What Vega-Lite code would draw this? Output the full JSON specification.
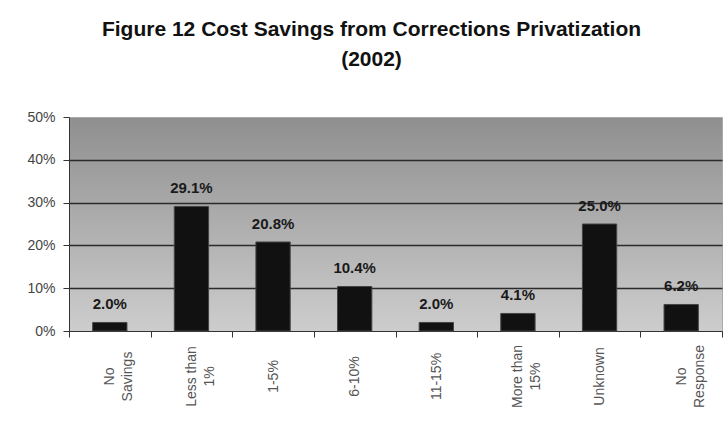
{
  "$schema": "https://vega.github.io/schema/vega-lite/v6.json",
  "width": 653,
  "height": 214,
  "autosize": {"type": "none"},
  "padding": {"left": 69, "top": 117, "right": 4, "bottom": 107},
  "background": "white",
  "title": {
    "text": ["Figure 12 Cost Savings from Corrections Privatization", "(2002)"],
    "font": "Liberation Sans",
    "fontSize": 21,
    "fontWeight": "bold",
    "lineHeight": 30,
    "anchor": "middle",
    "dx": -24,
    "offset": 40,
    "color": "#111111"
  },
  "config": {
    "font": "Liberation Sans",
    "view": {
      "fill": {"gradient": "linear", "x1": 0, "y1": 0, "x2": 0, "y2": 1,
        "stops": [{"offset": 0, "color": "#8f8f8f"}, {"offset": 1, "color": "#cdcdcd"}]},
      "stroke": "#aaaaaa"
    }
  },
  "data": {"values": [
    {"category": "No Savings", "value": 0.020},
    {"category": "Less than 1%", "value": 0.291},
    {"category": "1-5%", "value": 0.208},
    {"category": "6-10%", "value": 0.104},
    {"category": "11-15%", "value": 0.020},
    {"category": "More than 15%", "value": 0.041},
    {"category": "Unknown", "value": 0.250},
    {"category": "No Response", "value": 0.062}
  ]},
  "encoding": {
    "x": {
      "field": "category", "type": "nominal", "sort": null,
      "scale": {"paddingInner": 0, "paddingOuter": 0},
      "axis": {
        "title": null,
        "labelAngle": -90,
        "labelAlign": "center",
        "labelBaseline": "middle",
        "labelPadding": 39,
        "labelExpr": "datum.value == 'No Savings' ? ['No','Savings'] : datum.value == 'Less than 1%' ? ['Less than','1%'] : datum.value == 'More than 15%' ? ['More than','15%'] : datum.value == 'No Response' ? ['No','Response'] : datum.label",
        "labelLineHeight": 18,
        "labelFontSize": 14,
        "labelColor": "#555555",
        "labelOverlap": false,
        "labelBound": false,
        "tickBand": "extent",
        "tickSize": 6,
        "tickColor": "#333333",
        "domainColor": "#333333",
        "grid": false
      }
    },
    "y": {
      "field": "value", "type": "quantitative",
      "scale": {"domain": [0, 0.5], "nice": false},
      "axis": {
        "title": null,
        "values": [0, 0.1, 0.2, 0.3, 0.4, 0.5],
        "format": ".0%",
        "tickSize": 6,
        "labelPadding": 8,
        "labelFontSize": 14,
        "labelColor": "#444444",
        "tickColor": "#333333",
        "domainColor": "#333333",
        "gridColor": {"condition": {"test": "datum.value >= 0.5 || datum.value <= 0", "value": "transparent"}, "value": "#2b2b2b"},
        "gridWidth": 1.5
      }
    }
  },
  "layer": [
    {"mark": {"type": "bar", "width": {"band": 0.42}, "fill": "#111111", "stroke": "#444444", "strokeWidth": 1}},
    {
      "mark": {"type": "text", "dy": -18, "baseline": "middle", "fontWeight": "bold", "fontSize": 15, "color": "#1a1a1a"},
      "encoding": {"text": {"field": "value", "type": "quantitative", "format": ".1%"}}
    }
  ]
}
